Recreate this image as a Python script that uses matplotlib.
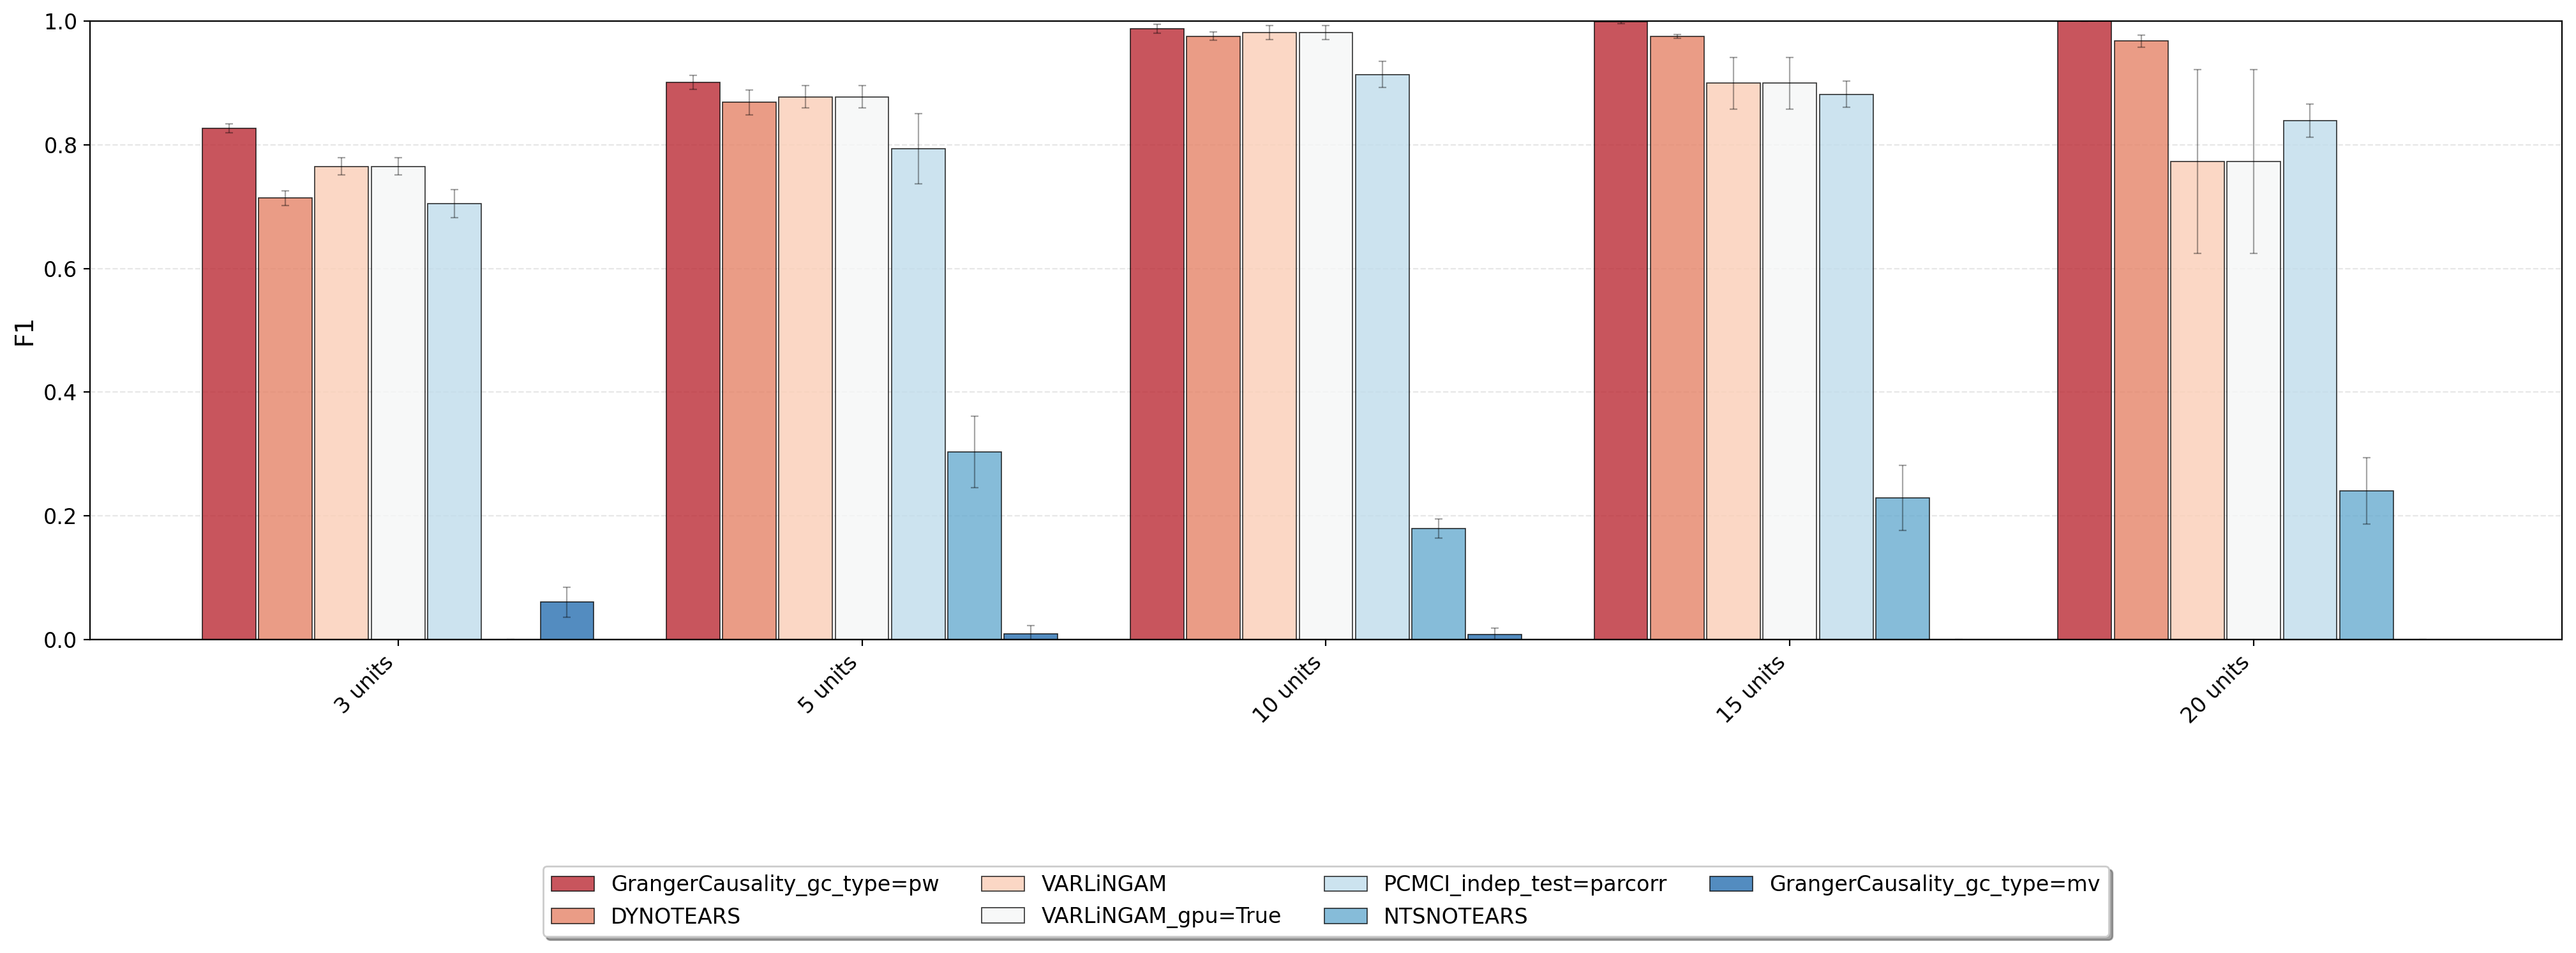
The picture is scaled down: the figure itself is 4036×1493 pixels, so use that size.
import numpy as np
import matplotlib
matplotlib.use("Agg")
import matplotlib.pyplot as plt
import seaborn as sns

categories = ['3 units', '5 units', '10 units', '15 units', '20 units']
methods = ['GrangerCausality_gc_type=pw', 'DYNOTEARS', 'VARLiNGAM',
           'VARLiNGAM_gpu=True', 'PCMCI_indep_test=parcorr', 'NTSNOTEARS',
           'GrangerCausality_gc_type=mv']

gc_pw = [0.827, 0.901, 0.988, 0.999, 1.000]
gc_pw_err = [0.007, 0.0115, 0.007, 0.003, 0.0]
dynotears = [0.714, 0.869, 0.976, 0.976, 0.968]
dynotears_err = [0.012, 0.020, 0.007, 0.003, 0.010]
varlingam = [0.765, 0.878, 0.982, 0.900, 0.773]
varlingam_err = [0.014, 0.018, 0.011, 0.042, 0.149]
varlingam_gpu = [0.765, 0.878, 0.982, 0.900, 0.773]
varlingam_gpu_err = [0.014, 0.018, 0.011, 0.042, 0.149]
pcmci = [0.705, 0.794, 0.914, 0.882, 0.839]
pcmci_err = [0.023, 0.057, 0.021, 0.021, 0.027]
ntsnotears = [0.0, 0.303, 0.179, 0.229, 0.240]
ntsnotears_err = [0.0, 0.058, 0.0155, 0.053, 0.054]
gc_mv = [0.060, 0.009, 0.008, 0.0, 0.0]
gc_mv_err = [0.024, 0.013, 0.010, 0.0, 0.0]

values = [gc_pw, dynotears, varlingam, varlingam_gpu, pcmci, ntsnotears, gc_mv]
errors = [gc_pw_err, dynotears_err, varlingam_err, varlingam_gpu_err,
          pcmci_err, ntsnotears_err, gc_mv_err]

colors = sns.color_palette("RdBu", len(methods))

fig = plt.figure(figsize=(4037 / 200, 1493 / 200), dpi=200)
ax = fig.add_axes([0.0349, 0.3292, 0.9594, 0.6484])

n = len(methods)
group_w = 0.85
step = group_w / n
x = np.arange(len(categories))
for j, (m, v, e) in enumerate(zip(methods, values, errors)):
    pos = x + (j - (n - 1) / 2) * step
    ax.bar(pos, v, width=step * 0.95, color=colors[j], alpha=0.8,
           edgecolor='black', linewidth=0.6, label=m, yerr=e,
           error_kw=dict(ecolor='black', alpha=0.35, capsize=2,
                         elinewidth=0.8, capthick=0.8))

ax.axhline(0, color='black', linewidth=1.2)
ax.set_ylim(0, 1.0)
ax.set_yticks(np.arange(0, 1.01, 0.2))
ax.set_xticks(x)
ax.set_xticklabels(categories, rotation=45, ha='right', fontsize=12)
ax.tick_params(axis='y', labelsize=12)
ax.set_ylabel('F1', fontsize=14)
ax.yaxis.grid(True, linestyle='--', alpha=0.3)
ax.set_axisbelow(True)

ax.legend(loc='upper center', bbox_to_anchor=(0.5, -0.367), ncol=4,
          shadow=True, fancybox=True, fontsize=12, borderaxespad=0)

fig.savefig('out.png', dpi=200)
